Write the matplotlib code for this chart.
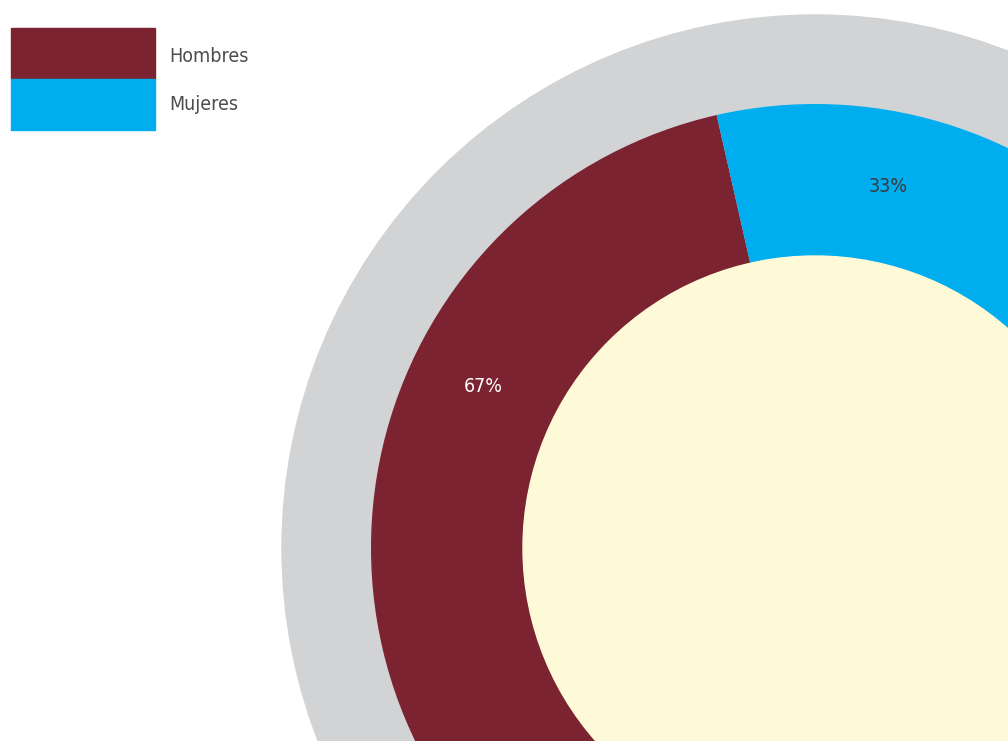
import numpy as np
import matplotlib.pyplot as plt
from matplotlib.patches import Circle, Rectangle

plt.rcParams['font.family'] = ['DejaVu Sans']
plt.rcParams['font.stretch'] = 'condensed'

categories = ['Hombres', 'Mujeres']
values = [67, 33]
pct_labels = ['67%', '33%']
colors = ['#7b2330', '#00aeef']
label_colors = ['white', '#3a3a3a']

# layout in pixel units (y up)
W, H = 1008, 741
cx, cy = 815, 741 - 548
r_gray, r_ring, r_hole = 533, 444, 292
label_angles = [154, 78.5]
label_r = 369
legend_text_y = [57, 104]

fig = plt.figure(figsize=(W / 100, H / 100), dpi=100)
ax = fig.add_axes([0, 0, 1, 1])

ax.add_patch(Circle((cx, cy), r_gray, color='#d1d3d4', zorder=0))
ax.pie(values, colors=colors, startangle=102.8, counterclock=True,
       center=(cx, cy), radius=r_ring,
       wedgeprops=dict(width=r_ring - r_hole, linewidth=0))
ax.add_patch(Circle((cx, cy), r_hole, color='#fef9d6', zorder=3))

for txt, a, c in zip(pct_labels, label_angles, label_colors):
    t = np.deg2rad(a)
    ax.text(cx + label_r * np.cos(t), cy + label_r * np.sin(t), txt,
            color=c, fontsize=14, ha='center', va='center', zorder=4)

# legend
for i, (name, col) in enumerate(zip(categories, colors)):
    top = H - 28 - i * 51
    ax.add_patch(Rectangle((11, top - 51), 144, 51, color=col, zorder=5))
    ax.text(169, H - legend_text_y[i], name, color='#4d4d4f', fontsize=14,
            ha='left', va='center', zorder=5)

ax.set_xlim(0, W)
ax.set_ylim(0, H)
ax.set_aspect('equal')
ax.axis('off')

fig.savefig('out.png', dpi=100)
